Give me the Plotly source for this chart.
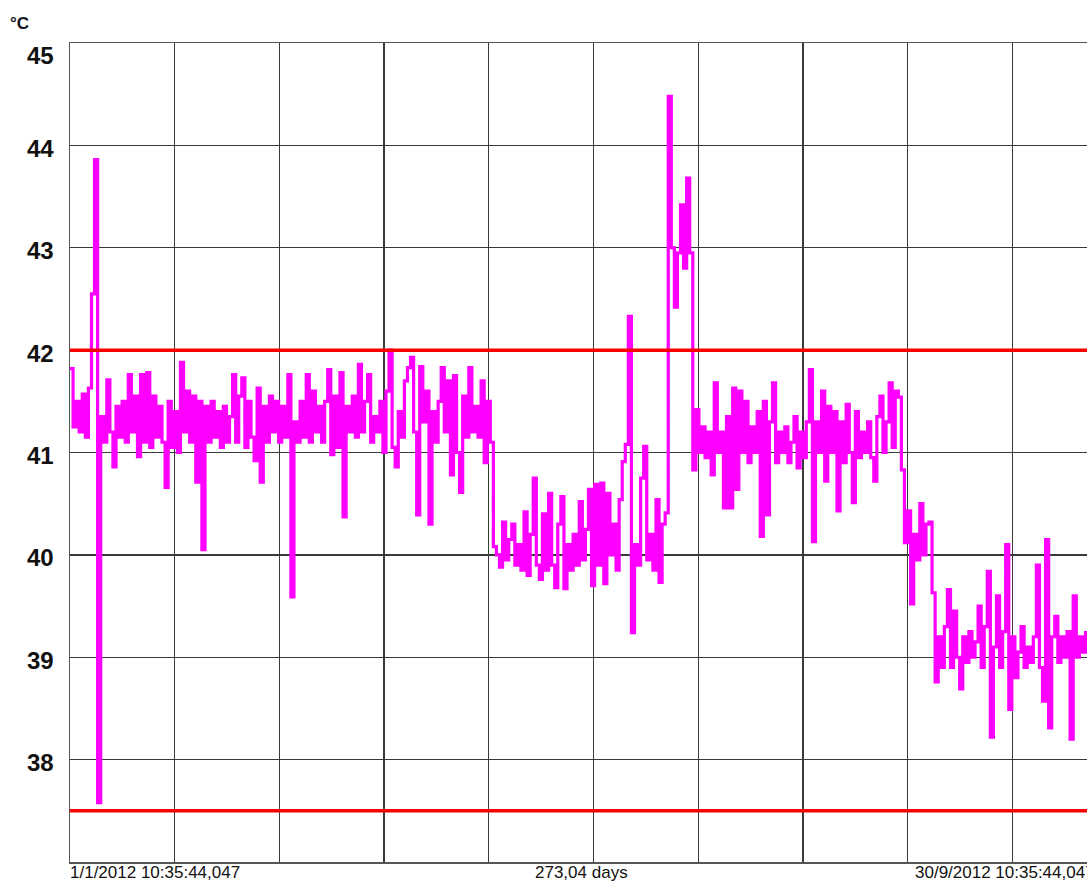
import plotly.graph_objects as go

# ---------------- data ----------------
SAMPLE_STEP_DAYS = 0.8          # logger sampling interval used for the series below
SPAN_DAYS = 273.04              # full span of the record
VISIBLE_DAYS = 265.2            # part of the span shown in the window
temps = [
    41.82, 41.25, 41.5, 41.2, 41.57, 41.15, 41.63, 42.55, 43.86, 37.58,
    41.35, 41.1, 41.71, 41.2, 40.86, 41.45, 41.15, 41.5, 41.1, 41.76,
    41.2, 41.55, 40.96, 41.76, 41.1, 41.78, 41.05, 41.55, 41.15, 41.45,
    41.1, 40.66, 41.5, 41.05, 41.4, 41.0, 41.88, 41.2, 41.6, 41.1,
    41.55, 40.71, 41.5, 40.05, 41.45, 41.1, 41.5, 41.15, 41.4, 41.05,
    41.45, 41.1, 41.35, 41.76, 41.1, 41.55, 41.73, 41.05, 41.5, 41.15,
    40.92, 41.63, 40.71, 41.45, 41.1, 41.55, 41.2, 41.5, 41.1, 41.45,
    41.15, 41.76, 39.59, 41.3, 41.1, 41.5, 41.15, 41.76, 41.1, 41.6,
    41.2, 41.45, 41.1, 41.5, 41.81, 40.98, 41.55, 41.05, 41.78, 40.37,
    41.45, 41.2, 41.55, 41.15, 41.86, 41.2, 41.5, 41.76, 41.1, 41.35,
    41.2, 41.5, 41.0, 41.6, 42.0, 41.05, 40.86, 41.4, 41.15, 41.7,
    41.83, 41.93, 41.2, 40.39, 41.84, 41.3, 41.6, 40.3, 41.4, 41.1,
    41.5, 41.83, 41.2, 41.7, 40.78, 41.75, 41.0, 40.61, 41.55, 41.15,
    41.83, 41.2, 41.45, 41.15, 41.7, 40.9, 41.5, 41.1, 40.08, 40.0,
    39.88, 40.32, 39.95, 40.15, 40.3, 39.9, 40.1, 39.85, 40.42, 39.8,
    40.2, 40.75, 39.9, 39.76, 40.4, 39.85, 40.6, 39.9, 39.68, 40.3,
    40.57, 39.67, 40.1, 39.85, 40.2, 39.9, 40.52, 39.95, 40.25, 40.64,
    39.7, 40.69, 39.9, 40.7, 39.72, 40.6, 40.0, 40.3, 39.85, 40.54,
    40.91, 41.08, 42.33, 39.24, 40.1, 39.9, 40.75, 41.06, 39.95, 40.2,
    39.85, 40.54, 39.73, 40.3, 40.41, 44.48, 43.0, 42.42, 42.95, 43.42,
    42.8, 43.68, 42.95, 40.83, 41.42, 41.0, 41.25, 40.95, 41.2, 40.78,
    41.68, 41.0, 41.2, 40.46, 41.35, 40.46, 41.63, 40.64, 41.6, 41.0,
    41.5, 40.9, 41.25, 41.0, 41.4, 40.18, 41.5, 40.39, 41.3, 41.68,
    40.9, 41.2, 41.0, 41.25, 40.9, 41.1, 41.35, 40.85, 41.2, 40.95,
    41.3, 41.81, 40.13, 41.3, 41.0, 41.6, 40.72, 41.45, 41.0, 41.4,
    40.43, 41.3, 40.9, 41.47, 41.0, 40.51, 41.4, 40.95, 41.2, 41.0,
    41.3, 40.95, 40.72, 41.35, 41.55, 41.0, 41.3, 41.68, 41.05, 41.6,
    41.54, 40.83, 40.12, 40.43, 39.52, 40.2, 39.95, 40.5, 40.0, 40.3,
    40.32, 39.63, 38.76, 39.2, 38.9, 39.3, 39.66, 38.9, 39.45, 39.0,
    38.69, 39.2, 38.95, 39.25, 39.0, 39.15, 39.5, 38.9, 39.3, 39.84,
    38.22, 39.1, 39.6, 38.9, 39.25, 40.1, 38.49, 39.2, 38.8, 39.05,
    39.3, 38.9, 39.1, 38.95, 39.2, 39.9, 38.9, 38.57, 40.15, 38.31,
    39.2, 39.4, 38.95, 39.2, 39.0, 39.25, 38.2, 39.6, 39.0, 39.2,
    39.05, 39.24, 39.05,
]
days = [i * SAMPLE_STEP_DAYS for i in range(len(temps))]

limits = [42.0, 37.5]                       # alarm limits (red lines)
y_ticks = [45, 44, 43, 42, 41, 40, 39, 38]
y_min, y_max = 37, 45
n_time_divisions = 10
start_label = "1/1/2012 10:35:44,047"
span_label = "273,04 days"
end_label = "30/9/2012 10:35:44,047"
unit_label = "°C"

# ---------------- figure ----------------
W, H = 1087, 881
ML, MT, MB = 70, 43, 19
plot_w = W - ML

fig = go.Figure()
fig.add_trace(go.Scatter(
    x=days, y=temps, mode="lines", line=dict(color="#ff00ff", width=3.2, shape="hv"),
    hoverinfo="skip", showlegend=False,
))

for lv in limits:
    fig.add_shape(type="line", xref="paper", x0=0, x1=1, yref="y", y0=lv, y1=lv,
                  line=dict(color="#ff0000", width=3.5), layer="above")

grid_col = "#3a3a3a"
fig.update_xaxes(range=[0, VISIBLE_DAYS], tick0=0, dtick=SPAN_DAYS / n_time_divisions,
                 showgrid=True, gridcolor=grid_col, gridwidth=1.3, zeroline=False,
                 showticklabels=False, ticks="", showline=True, linecolor="#555555",
                 linewidth=1.5, mirror=True)
fig.update_yaxes(range=[y_min, y_max], tick0=y_min, dtick=1, showgrid=True,
                 gridcolor=grid_col, gridwidth=1.3, zeroline=False, showticklabels=False,
                 ticks="", showline=True, linecolor="#555555", linewidth=1.5)

font_main = "Liberation Sans, Arial, sans-serif"
ann = []
for t in y_ticks:
    ann.append(dict(x=0, xref="paper", xanchor="right", xshift=-14, y=t, yref="y",
                    yanchor="middle", yshift=(-12 if t == y_max else -3), text=str(t),
                    showarrow=False, font=dict(family=font_main, size=24, color="#111111",
                                               weight="bold")))
ann.append(dict(x=0, xref="paper", xanchor="left", xshift=-62, y=1, yref="paper",
                yanchor="middle", yshift=20, text=unit_label, showarrow=False,
                font=dict(family=font_main, size=17, color="#111122", weight="bold")))
ann.append(dict(x=0, xref="paper", xanchor="left", xshift=-2, y=0, yref="paper",
                yanchor="middle", yshift=-10, text=start_label, showarrow=False,
                font=dict(family=font_main, size=17, color="#111111")))
ann.append(dict(x=(581 - ML) / plot_w, xref="paper", xanchor="center", y=0,
                yref="paper", yanchor="middle", yshift=-10, text=span_label,
                showarrow=False, font=dict(family=font_main, size=17, color="#111111")))
ann.append(dict(x=(915 - ML) / plot_w, xref="paper", xanchor="left", xshift=-2, y=0,
                yref="paper", yanchor="middle", yshift=-10, text=end_label, showarrow=False,
                font=dict(family=font_main, size=17, color="#111111")))

fig.update_layout(
    width=W, height=H, margin=dict(l=ML, r=0, t=MT, b=MB, autoexpand=False),
    paper_bgcolor="white", plot_bgcolor="white", annotations=ann,
)
fig.write_html(
    "out.html",
    config={"displayModeBar": False, "staticPlot": True},
    post_script="document.documentElement.style.margin='0';"
                "document.body.style.margin='0';document.body.style.padding='0';"
                "document.body.style.overflow='hidden';",
)
